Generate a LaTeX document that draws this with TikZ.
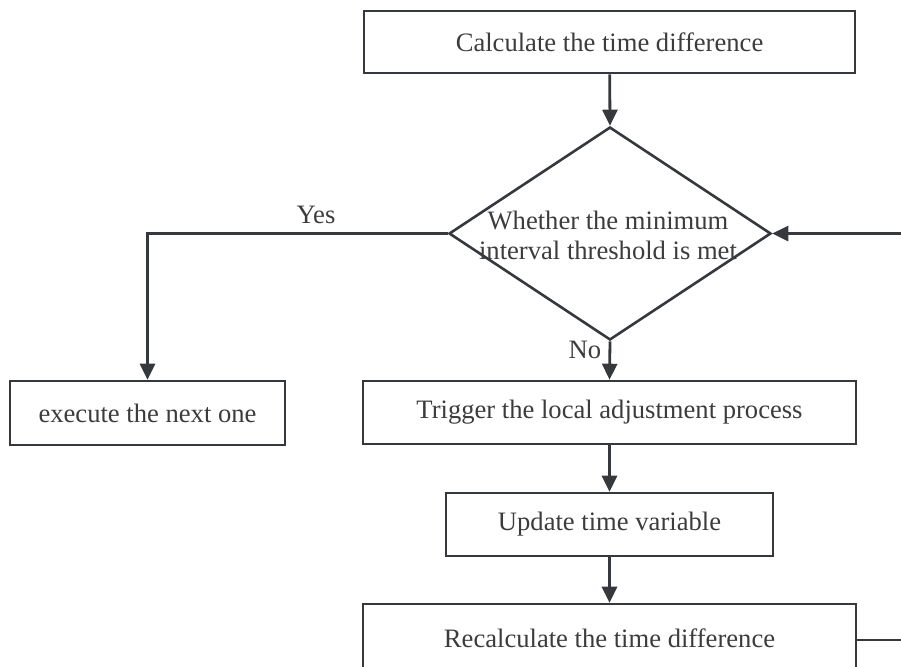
\documentclass[tikz,border=0pt]{standalone}
\usepackage{fontspec}
\setmainfont{Liberation Serif}
\usetikzlibrary{arrows.meta,shapes.geometric}
\definecolor{linec}{HTML}{35393D}
\definecolor{textc}{HTML}{3C3C3C}
\tikzset{
  box/.style={draw=linec, line width=1.3pt, rectangle, inner sep=0pt, text=textc,
    font=\fontsize{13.3}{15}\selectfont},
  decision/.style={draw=linec, line width=1.3pt, diamond, inner sep=0pt},
  txt/.style={text=textc, font=\fontsize{13.3}{15}\selectfont, align=center, inner sep=0pt},
  arr/.style={draw=linec, line width=1.4pt, -{Triangle[length=8pt,width=7.5pt]}},
  ln/.style={draw=linec, line width=1.4pt}
}
\begin{document}
\begin{tikzpicture}[x=0.5pt,y=-0.5pt]
\useasboundingbox (0,0) rectangle (901,666);
\clip (0,0) rectangle (901,666);
\node[box, minimum width=245.5pt, minimum height=31pt] (top) at (609.5,42) {Calculate the time difference};
\node[decision, minimum width=161pt, minimum height=106.5pt] (dia) at (610,233.5) {};
\node[txt] (diatext) at (608,235) {Whether the minimum\\interval threshold is met};
\node[box, minimum width=137.5pt, minimum height=32pt] (left) at (147.5,413) {execute the next one};
\node[box, minimum width=246.5pt, minimum height=31.5pt] (trig) at (609.5,412.5) {Trigger the local adjustment process};
\node[box, minimum width=163.5pt, minimum height=31.5pt] (upd) at (609.5,524.5) {Update time variable};
\node[box, minimum width=246.5pt, minimum height=34pt] (recalc) at (609.5,638) {Recalculate the time difference};
\coordinate (fbR) at (910,233.5);
\coordinate (outR) at (910,640);

\draw[arr] (top) -- (dia.north);
\draw[arr] (dia.west) -| (left.north);
\node[txt] (yes) at (316,215) {Yes};
\draw[arr] (dia.south) -- (trig.north);
\node[txt] (no) at (585,350) {No};
\draw[arr] (trig) -- (upd);
\draw[arr] (upd) -- (recalc);
\draw[ln] (recalc.east |- outR) -- (outR);
\draw[arr] (fbR) -- (dia.east);
\end{tikzpicture}
\end{document}
